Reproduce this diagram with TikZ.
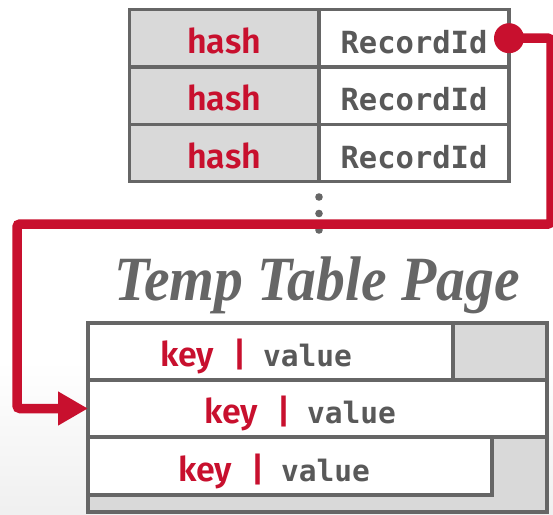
\documentclass[tikz,border=0pt]{standalone}
\usepackage{fontspec}
\usetikzlibrary{arrows.meta}
\newfontfamily\labfont{Fira Sans SemiBold}
\newfontfamily\codefont{DejaVu Sans Mono}
\newfontfamily\titlefont{Liberation Serif}
\definecolor{dbred}{HTML}{C8102E}
\definecolor{txtgray}{HTML}{595959}
\definecolor{linegray}{HTML}{666666}
\definecolor{cellgray}{HTML}{D9D9D9}
\newcommand{\kvpair}{{\labfont\fontsize{34}{40}\selectfont\color{dbred}key\hspace{19pt}|\hspace{17pt}}{\codefont\bfseries\fontsize{29.5}{36}\selectfont\color{txtgray}value}}

\begin{document}
\begin{tikzpicture}[x=1pt,y=-1pt,
  cell/.style={draw=linegray, line width=3.5pt, inner sep=0pt, outer sep=0pt,
    minimum height=57.4pt},
  hashcell/.style={cell, fill=cellgray, minimum width=189.5pt},
  ridcell/.style={cell, fill=white, minimum width=190pt},
  slot/.style={cell, fill=white, minimum height=57pt},
  hashtxt/.style={anchor=base, inner sep=0pt, text=dbred, font=\labfont\fontsize{34}{40}\selectfont},
  ridtxt/.style={anchor=base, inner sep=0pt, text=txtgray, font=\codefont\bfseries\fontsize{30.5}{36}\selectfont},
  kvtxt/.style={anchor=base west, inner sep=0pt},
  dotmark/.style={fill=linegray},
  link/.style={draw=dbred, line width=9.5pt, rounded corners=3pt,
    -{Triangle[length=30pt,width=32pt]}}
]
% canvas with a faint grey fade along the lower edge
\useasboundingbox (0,0) rectangle (553,514);
\fill[white] (0,0) rectangle (553,514);
\shade[top color=white, bottom color=black!6] (0,360) rectangle (553,514);

% hash table: three slots of (hash, RecordId)
\node[hashcell] (h1) at (224.25,38.2) {};
\node[hashcell] (h2) at (224.25,95.6) {};
\node[hashcell] (h3) at (224.25,153.0) {};
\node[ridcell] (r1) at (414,38.2) {};
\node[ridcell] (r2) at (414,95.6) {};
\node[ridcell] (r3) at (414,153.0) {};
\foreach \i in {1,2,3}{
  \node[hashtxt] (ht\i) at ([yshift=-15pt]h\i.center) {hash};
  \node[ridtxt] (rt\i) at ([yshift=-15pt]r\i.center) {RecordId};
}

% vertical ellipsis below the table
\fill[dotmark] (319,197) circle[radius=3.8pt];
\fill[dotmark] (319,213.5) circle[radius=3.8pt];
\fill[dotmark] (319,230) circle[radius=3.8pt];

% temp table page title
\node[anchor=base, inner sep=0pt, text=linegray] (title) at (317,300)
  {\scalebox{0.915}[1]{\titlefont\bfseries\itshape\fontsize{63}{70}\selectfont Temp Table Page}};

% page with its three tuples
\node[cell, fill=cellgray, minimum width=459pt, minimum height=189pt] (page) at (317.5,417.5) {};
\node[slot, minimum width=365pt] (row1) at (270.5,351.5) {};
\node[slot, minimum width=459pt] (row2) at (317.5,408.5) {};
\node[slot, minimum width=404pt, minimum height=58pt] (row3) at (290,466) {};

\node[kvtxt] (kv1) at ([xshift=72pt,yshift=-15pt]row1.west) {\kvpair};
\node[kvtxt] (kv2) at ([xshift=116pt,yshift=-15pt]row2.west) {\kvpair};
\node[kvtxt] (kv3) at ([xshift=90pt,yshift=-15pt]row3.west) {\kvpair};

% pointer from the first RecordId to the second tuple
\coordinate (turnR) at (551,224);
\coordinate (turnL) at (17,224);
\draw[link] (r1.east) -| (turnR) -- (turnL) |- (row2.west);
\fill[dbred] (r1.east) circle[radius=15pt];
\end{tikzpicture}
\end{document}
